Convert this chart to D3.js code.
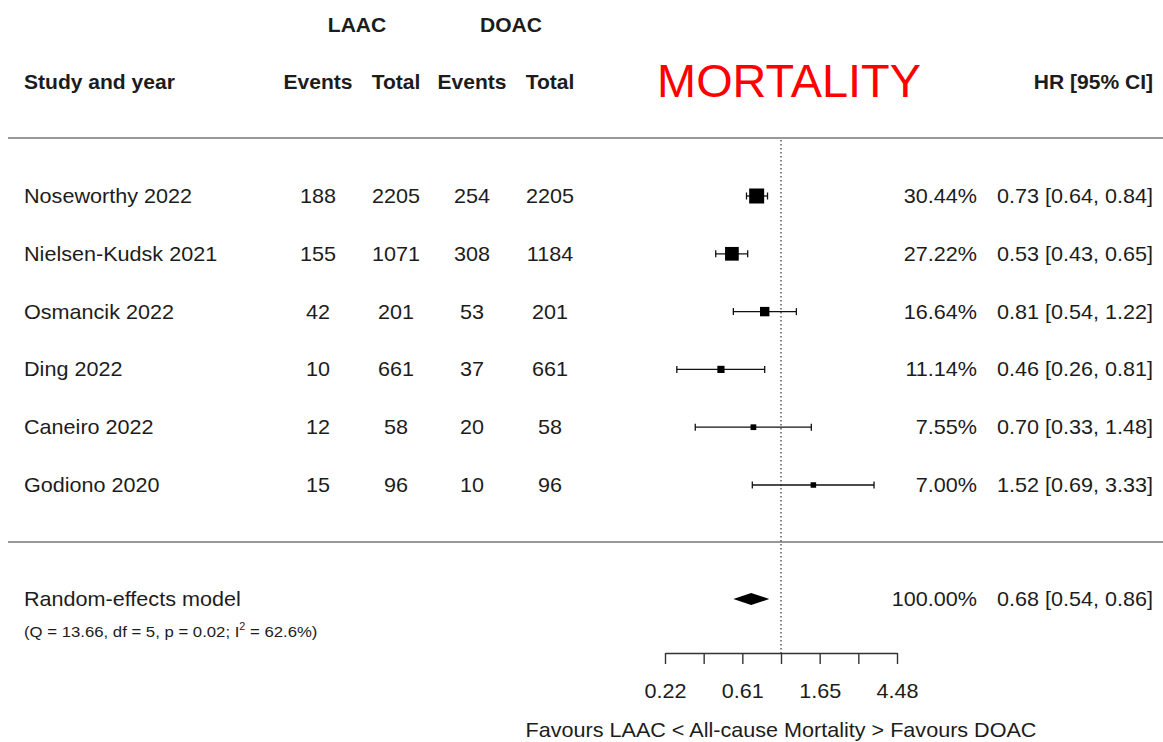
<!DOCTYPE html>
<html>
<head>
<meta charset="utf-8">
<script src="https://cdn.jsdelivr.net/npm/d3@7"></script>
<style>
  html, body { margin: 0; padding: 0; background: #fff; }
  svg { display: block; font-family: "Liberation Sans", Arial, Helvetica, sans-serif; }
</style>
</head>
<body>
<svg id="chart" width="1163" height="742"></svg>
<script>
// ---- data ----
const studies = ["Noseworthy 2022", "Nielsen-Kudsk 2021", "Osmancik 2022", "Ding 2022", "Caneiro 2022", "Godiono 2020"];
const laacEvents = [188, 155, 42, 10, 12, 15];
const laacTotal  = [2205, 1071, 201, 661, 58, 96];
const doacEvents = [254, 308, 53, 37, 20, 10];
const doacTotal  = [2205, 1184, 201, 661, 58, 96];
const weights    = [30.44, 27.22, 16.64, 11.14, 7.55, 7.00];
const hr         = [0.73, 0.53, 0.81, 0.46, 0.70, 1.52];
const hrLo       = [0.64, 0.43, 0.54, 0.26, 0.33, 0.69];
const hrHi       = [0.84, 0.65, 1.22, 0.81, 1.48, 3.33];
const pooledLabel = "Random-effects model";
const pooledStats = "(Q = 13.66, df = 5, p = 0.02; I";
const pooledStats2 = " = 62.6%)";
const pooled = [0.68, 0.54, 0.86];   // estimate, lower, upper
const pooledWeight = "100.00%";
const tickExps = [-1.5, -1, -0.5, 0, 0.5, 1, 1.5];
const tickLabels = ["0.22", "", "0.61", "", "1.65", "", "4.48"];
const title = "MORTALITY";
const xLabel = "Favours LAAC < All-cause Mortality > Favours DOAC";

// ---- setup ----
const svg = d3.select("#chart");
const SX = 1.08; // horizontal stretch of text as in reference
const ink = "#1c1c1c";

function txt(x, y, s, opts = {}) {
  const t = svg.append("text")
    .attr("transform", `translate(${x},${y}) scale(${SX},1)`)
    .attr("text-anchor", opts.anchor || "start")
    .attr("font-size", opts.size || 20)
    .attr("font-weight", opts.bold ? "bold" : "normal")
    .attr("fill", opts.fill || ink)
    .text(s);
  return t;
}

const x = d3.scaleLog().domain([Math.exp(-1.5), Math.exp(1.5)]).range([665, 897]);
const y = d3.scalePoint().domain(studies).range([196, 485]);
const boxSize = d3.scaleLinear().domain([d3.min(weights), d3.max(weights)]).range([5.5, 15]);
const pooledY = 599;
const axisY = 653;

// ---- header ----
txt(357, 32, "LAAC", {anchor: "middle", bold: true, size: 19.5});
txt(511, 32, "DOAC", {anchor: "middle", bold: true, size: 19.5});
txt(24, 89, "Study and year", {bold: true, size: 19.5});
const colX = [318, 396, 472, 550];
["Events", "Total", "Events", "Total"].forEach((h, i) => txt(colX[i], 89, h, {anchor: "middle", bold: true, size: 19.5}));
txt(1153, 89, "HR [95% CI]", {anchor: "end", bold: true, size: 19.5});
svg.append("text")
  .attr("transform", `translate(789,97) scale(1.03,1)`)
  .attr("text-anchor", "middle")
  .attr("font-size", 45.5)
  .attr("fill", "#ff0000")
  .text(title);

// ---- separators ----
svg.append("line").attr("x1", 8).attr("x2", 1163).attr("y1", 138).attr("y2", 138)
  .attr("stroke", "#999").attr("stroke-width", 2);
svg.append("line").attr("x1", 8).attr("x2", 1163).attr("y1", 542).attr("y2", 542)
  .attr("stroke", "#999").attr("stroke-width", 2);

// ---- reference line ----
svg.append("line").attr("x1", x(1)).attr("x2", x(1)).attr("y1", 140).attr("y2", axisY)
  .attr("stroke", "#333").attr("stroke-width", 1.2).attr("stroke-dasharray", "1.5,2.5");

// ---- rows ----
studies.forEach((s, i) => {
  const yy = y(s);
  txt(24, yy + 7, s);
  txt(colX[0], yy + 7, laacEvents[i], {anchor: "middle"});
  txt(colX[1], yy + 7, laacTotal[i], {anchor: "middle"});
  txt(colX[2], yy + 7, doacEvents[i], {anchor: "middle"});
  txt(colX[3], yy + 7, doacTotal[i], {anchor: "middle"});
  txt(977, yy + 7, weights[i].toFixed(2) + "%", {anchor: "end"});
  txt(1153, yy + 7, `${hr[i].toFixed(2)} [${hrLo[i].toFixed(2)}, ${hrHi[i].toFixed(2)}]`, {anchor: "end"});

  // CI
  svg.append("line").attr("x1", x(hrLo[i])).attr("x2", x(hrHi[i])).attr("y1", yy).attr("y2", yy)
    .attr("stroke", "#111").attr("stroke-width", 1.3);
  [hrLo[i], hrHi[i]].forEach(v => {
    svg.append("line").attr("x1", x(v)).attr("x2", x(v)).attr("y1", yy - 3.5).attr("y2", yy + 3.5)
      .attr("stroke", "#111").attr("stroke-width", 1.3);
  });
  const b = boxSize(weights[i]);
  svg.append("rect").attr("x", x(hr[i]) - b / 2).attr("y", yy - b / 2)
    .attr("width", b).attr("height", b).attr("fill", "#000");
});

// ---- pooled ----
txt(24, pooledY + 7, pooledLabel);
const st = txt(24, 637, pooledStats, {size: 15.5});
st.append("tspan").attr("font-size", 10).attr("dy", -7).text("2");
st.append("tspan").attr("dy", 7).text(pooledStats2);
txt(977, pooledY + 7, pooledWeight, {anchor: "end"});
txt(1153, pooledY + 7, `${pooled[0].toFixed(2)} [${pooled[1].toFixed(2)}, ${pooled[2].toFixed(2)}]`, {anchor: "end"});
const dh = 6;
svg.append("polygon")
  .attr("points", [
    [x(pooled[1]), pooledY], [x(pooled[0]), pooledY - dh],
    [x(pooled[2]), pooledY], [x(pooled[0]), pooledY + dh]
  ].map(p => p.join(",")).join(" "))
  .attr("fill", "#000");

// ---- axis ----
const axis = d3.axisBottom(x)
  .tickValues(tickExps.map(e => Math.exp(e)))
  .tickFormat((d, i) => tickLabels[i])
  .tickSize(11)
  .tickSizeOuter(0);
const ag = svg.append("g").attr("transform", `translate(0,${axisY})`).call(axis);
ag.select(".domain").attr("stroke", "#333").attr("stroke-width", 1.4);
ag.selectAll(".tick line").attr("stroke", "#333").attr("stroke-width", 1.4);
ag.selectAll(".tick text")
  .attr("y", 0).attr("dy", 0)
  .attr("transform", `translate(0,45) scale(${SX},1)`)
  .attr("font-size", 20)
  .attr("font-family", '"Liberation Sans", Arial, sans-serif')
  .attr("fill", ink);

txt(x(1), 737, xLabel, {anchor: "middle"});
</script>
</body>
</html>
